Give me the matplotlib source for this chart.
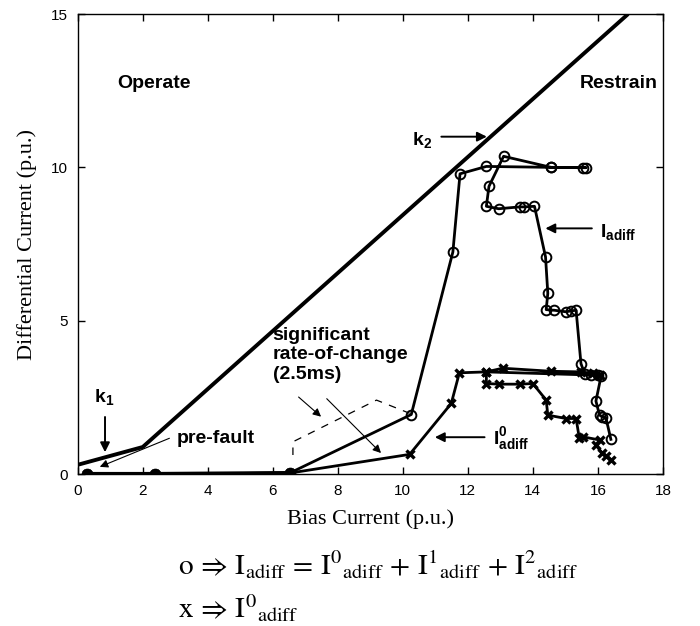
"""
Differential vs bias current trajectory with the dual-slope restraint
characteristic (k1, k2), Iadiff (o) and its zero-sequence part (x).
"""

import matplotlib
matplotlib.use('Agg')
import matplotlib.pyplot as plt

plt.rcParams['font.family'] = ['Liberation Sans', 'DejaVu Sans']
plt.rcParams['mathtext.fontset'] = 'custom'
plt.rcParams['mathtext.rm'] = 'Liberation Sans:bold'
plt.rcParams['mathtext.it'] = 'Liberation Sans:bold'
plt.rcParams['mathtext.bf'] = 'Liberation Sans:bold'

# restraint characteristic (k1 then k2 slope)
char_x = [0.0, 2.0, 16.93]
char_y = [0.30, 0.88, 15.0]

# pre-fault points shared by both traces
pre_x = [0.28, 2.37, 6.52]
pre_y = [0.0, 0.0, 0.03]

# Iadiff = I0 + I1 + I2  (o markers)
iad_x = [0.28, 2.37, 6.52, 10.26, 11.54, 11.76, 12.57, 14.56, 15.55, 15.64,
         14.56, 13.10, 12.65, 12.57, 12.95, 13.59, 13.74, 14.05, 14.39, 14.46,
         14.41, 14.66, 15.02, 15.18, 15.33, 15.48, 15.60, 15.80, 16.00, 16.10,
         15.94, 16.05, 16.14, 16.25, 16.40]
iad_y = [0.0, 0.0, 0.03, 1.94, 7.24, 9.79, 10.03, 10.0, 9.99, 9.99,
         10.0, 10.36, 9.38, 8.73, 8.65, 8.71, 8.71, 8.73, 7.08, 5.89,
         5.36, 5.34, 5.29, 5.32, 5.34, 3.60, 3.25, 3.22, 3.22, 3.20,
         2.38, 1.92, 1.87, 1.82, 1.13]

# I0adiff (x markers)
i0_x = [0.28, 2.37, 6.52, 10.21, 11.49, 11.74, 12.57, 13.07, 14.56, 15.48,
        15.84, 16.05, 12.57, 12.57, 12.97, 13.59, 14.00, 14.41, 14.46, 15.02,
        15.33, 15.43, 15.55, 16.05, 15.94, 16.14, 16.25, 16.40]
i0_y = [0.0, 0.0, 0.03, 0.64, 2.30, 3.30, 3.33, 3.45, 3.35, 3.33,
        3.28, 3.22, 3.33, 2.95, 2.93, 2.93, 2.95, 2.41, 1.92, 1.81,
        1.81, 1.16, 1.21, 1.11, 0.94, 0.67, 0.60, 0.46]

# "significant rate-of-change" dashed trace
roc_x = [6.62, 6.62, 9.19, 10.21]
roc_y = [0.62, 1.05, 2.41, 1.98]

fig = plt.figure(figsize=(7.0, 6.26), dpi=100)
ax = fig.add_axes([0.111, 0.2428, 0.836, 0.7348])

ax.plot(char_x, char_y, color='black', lw=2.8, solid_capstyle='butt')
ax.plot(iad_x, iad_y, color='black', lw=2.0, marker='o', ms=7,
        mfc='none', mec='black', mew=1.4)
ax.plot(i0_x, i0_y, color='black', lw=2.0, marker='x', ms=6, mew=2.4)
ax.plot(pre_x, pre_y, color='black', lw=3.0, marker='o', ms=6,
        mfc='black', mec='black')
ax.plot(roc_x, roc_y, color='black', lw=0.9, dashes=(6, 6))

ax.set_xlim(0, 18)
ax.set_ylim(0, 15)
ax.set_xticks(range(0, 19, 2))
ax.set_yticks([0, 5, 10, 15])
ax.tick_params(direction='in', top=True, right=True, length=5, width=1,
               labelsize=11, pad=7)
for sp in ax.spines.values():
    sp.set_linewidth(1.0)

ax.set_xlabel('Bias Current (p.u.)', family='Liberation Serif', fontsize=16,
              labelpad=8)
ax.set_ylabel('Differential Current (p.u.)', family='Liberation Serif',
              fontsize=16, labelpad=10)

bold = dict(fontsize=14, fontweight='bold', color='black')
thin = dict(arrowstyle='-|>', color='black', lw=0.8, mutation_scale=12)
thick = dict(arrowstyle='-|>', color='black', lw=1.4, mutation_scale=14)

ax.text(1.21, 12.74, 'Operate', ha='left', va='center', **bold)
ax.text(15.45, 12.74, 'Restrain', ha='left', va='center', **bold)

ax.text(10.6, 10.9, r'k$_2$', ha='center', va='center', **bold)
ax.annotate('', xy=(12.67, 11.0), xytext=(11.1, 11.0), arrowprops=thick)

ax.text(0.8, 2.5, r'k$_1$', ha='center', va='center', **bold)
ax.annotate('', xy=(0.84, 0.62), xytext=(0.84, 1.95), arrowprops=thick)

ax.text(3.05, 1.17, 'pre-fault', ha='left', va='center', **bold)
ax.annotate('', xy=(0.6, 0.2), xytext=(2.9, 1.2), arrowprops=thin)

ax.text(6.0, 4.8, 'significant\nrate-of-change\n(2.5ms)', ha='left',
        va='top', linespacing=1.2, **bold)
ax.annotate('', xy=(7.55, 1.81), xytext=(6.73, 2.57), arrowprops=thin)
ax.annotate('', xy=(9.39, 0.62), xytext=(7.6, 2.52), arrowprops=thin)

ax.text(16.05, 7.9, r'I$_{\rm adiff}$', ha='left', va='center', **bold)
ax.annotate('', xy=(14.3, 8.01), xytext=(15.9, 8.01), arrowprops=thick)

ax.text(12.76, 1.15, r'I$^{0}_{\rm adiff}$', ha='left', va='center', **bold)
ax.annotate('', xy=(10.9, 1.2), xytext=(12.6, 1.2), arrowprops=thick)

fig.text(0.254, 0.097,
         r'$\mathrm{o}\,\Rightarrow\,\mathrm{I_{adiff}\,=\,I^0{}_{adiff}\,+\,I^1{}_{adiff}\,+\,I^2{}_{adiff}}$',
         ha='left', va='center', fontsize=21, math_fontfamily='stix')
fig.text(0.254, 0.028, r'$\mathrm{x}\,\Rightarrow\,\mathrm{I^0{}_{adiff}}$',
         ha='left', va='center', fontsize=21, math_fontfamily='stix')

fig.savefig('out.png', dpi=100)
